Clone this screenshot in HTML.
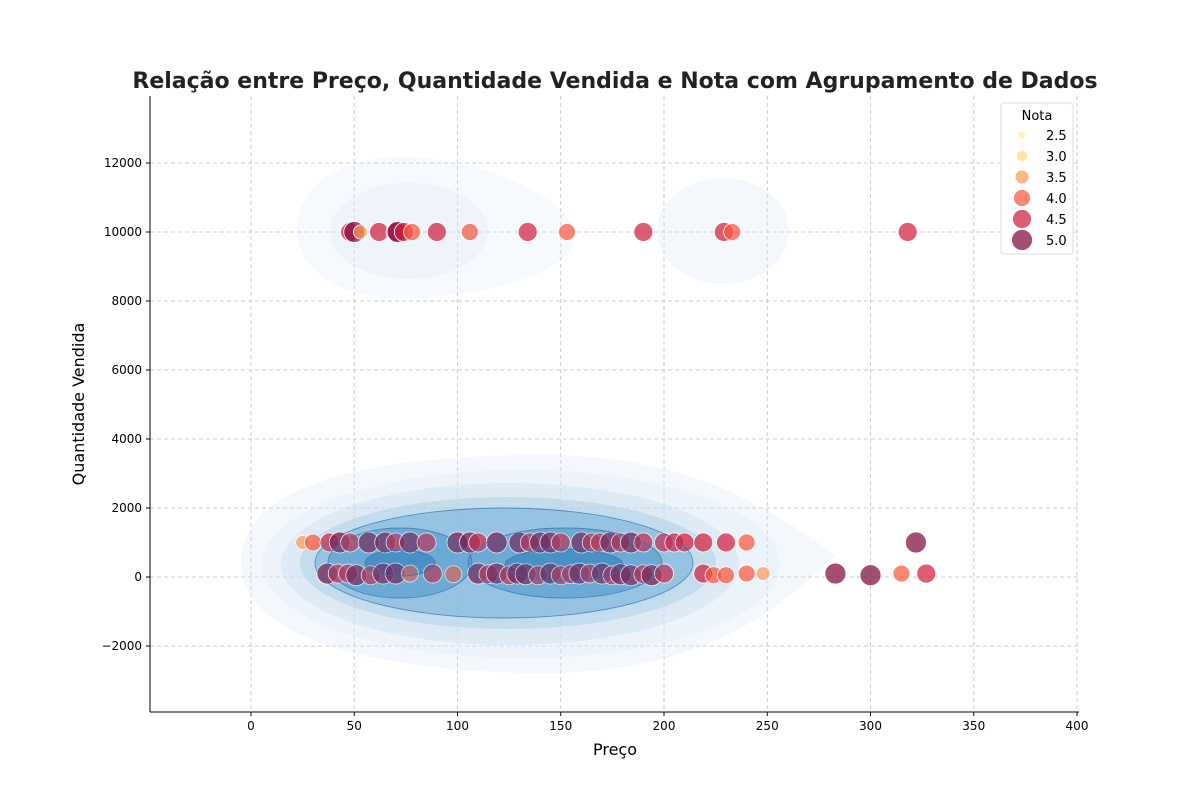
<!DOCTYPE html>
<html><head><meta charset="utf-8"><style>
body{margin:0;background:#fff;}
svg text{font-family:"DejaVu Sans","Liberation Sans",sans-serif;}
</style></head><body>
<svg id="c" width="1200" height="800" xmlns="http://www.w3.org/2000/svg">
<rect width="1200" height="800" fill="#fff"/>
<g id="grid"></g><g id="kde"></g><g id="pts"></g><g id="kdeLines"></g><g id="axes"></g><g id="legend"></g>
</svg>
<script>
const xTicks=[0,50,100,150,200,250,300,350,400];
const yTicks=[-2000,0,2000,4000,6000,8000,10000,12000];
const ratingLevels=[2.5,3.0,3.5,4.0,4.5,5.0];
const upperPrice=[48,50,53,62,70,71,74,78,90,106,134,153,190,229,233,318];
const upperQty=[10000,10000,10000,10000,10000,10000,10000,10000,10000,10000,10000,10000,10000,10000,10000,10000];
const upperRating=[4.5,5.0,3.5,4.5,4.5,5.0,4.5,4.0,4.5,4.0,4.5,4.0,4.5,4.5,4.0,4.5];
const midPrice=[25,30,38,43,48,57,65,70,77,85,100,106,110,119,130,135,140,145,150,160,165,169,174,179,184,190,200,205,210,219,230,240];
const midRating=[3.5,4.0,4.5,5.0,4.5,5.0,5.0,4.5,5.0,4.5,5.0,5.0,4.5,5.0,5.0,4.5,5.0,5.0,4.5,5.0,4.5,4.5,5.0,4.5,5.0,4.5,4.5,4.5,4.5,4.5,4.5,4.0];
const lowPrice=[37,42,47,51,58,64,70,77,88,98,110,115,119,125,129,133,139,145,150,155,159,164,170,175,179,184,190,194,200,219,224,230,240,248,283,300,315,327];
const lowQty=[100,100,100,50,50,100,100,100,100,80,100,80,100,50,100,80,50,100,50,80,100,100,100,50,80,50,80,50,100,100,50,50,100,100,100,50,100,100];
const lowRating=[5.0,4.5,4.5,5.0,4.5,5.0,5.0,4.0,4.5,4.0,5.0,4.5,5.0,4.5,5.0,5.0,4.5,5.0,4.5,4.5,5.0,4.5,5.0,4.5,5.0,5.0,4.5,5.0,4.5,4.5,4.0,4.0,4.0,3.5,5.0,5.0,4.0,4.5];
const extraPrice=[322];const extraQty=[1000];const extraRating=[5.0];

const L=150,R=1079,T=96,B=712;
const sx=v=>251+v*(1077-251)/400;
const sy=v=>577-v*(577-163)/12000;
const NS="http://www.w3.org/2000/svg";
function mk(p,t,a){const e=document.createElementNS(NS,t);for(const k in a)e.setAttribute(k,a[k]);p.appendChild(e);return e;}
const col={2.5:"#ffeda0",3.0:"#fed976",3.5:"#fd9d53",4.0:"#f8583f",4.5:"#d31f3f",5.0:"#800b3e"};
const rad={2.5:4,3.0:5.5,3.5:7,4.0:8.5,4.5:9.5,5.0:10.5};
const grid=document.getElementById('grid'),axes=document.getElementById('axes'),pts=document.getElementById('pts'),kde=document.getElementById('kde'),kl=document.getElementById('kdeLines'),leg=document.getElementById('legend');
xTicks.forEach(t=>{const g=mk(grid,'line',{x1:sx(t),x2:sx(t),y1:T,y2:B,stroke:'#ccc','stroke-dasharray':'4,3'});

mk(axes,'line',{x1:sx(t),x2:sx(t),y1:B,y2:B+4,stroke:'#000'});
const tx=mk(axes,'text',{x:sx(t),y:B+18,'font-size':12,'text-anchor':'middle'});tx.textContent=t;
});
yTicks.forEach(t=>{const g=mk(grid,'line',{x1:L,x2:R,y1:sy(t),y2:sy(t),stroke:'#ccc','stroke-dasharray':'4,3'});

mk(axes,'line',{x1:L-4,x2:L,y1:sy(t),y2:sy(t),stroke:'#000'});
const tx=mk(axes,'text',{x:L-8,y:sy(t)+4,'font-size':12,'text-anchor':'end'});tx.textContent=(t<0?'\u2212'+(-t):t);
});
const lv=["#dbe9f6","#c6dbef","#9ecae1","#6baed6","#4292c6","#2171b5"];
const op=[0.3,0.35,0.4,0.45,0.45,0.45];
function ell(cx,cy,rx,ry,i,name){const e=mk(kde,'ellipse',{cx,cy,rx,ry,fill:lv[i],'fill-opacity':op[i]});

if(i>2){const s=mk(kl,'ellipse',{cx,cy,rx,ry,fill:lv[i],'fill-opacity':0.12,stroke:'#2f6fb0','stroke-width':0.9,'stroke-opacity':0.7});
}}
let p=mk(kde,'path',{d:'M241,563 C241,470 420,455 540,455 C680,455 760,500 835,555 C760,630 680,673 540,673 C420,673 241,650 241,563Z',fill:'#dbe9f6','fill-opacity':0.3});

ell(521,564,259,94,0,'kde-contour');
ell(510,564,229,81,1,'kde-contour');
ell(508,563,208,66,2,'kde-contour');
ell(504,563,189,55,3,'kde-contour');
ell(400,563,72,35,4,'kde-contour');ell(565,563,97,35,4,'kde-contour');
ell(400,563,35,13,5,'kde-contour');ell(564,565,59,16,5,'kde-contour');
p=mk(kde,'path',{d:'M297,230 C297,180 350,157 400,157 C480,157 575,200 575,235 C575,275 480,298 400,298 C340,298 297,270 297,230Z',fill:'#dbe9f6','fill-opacity':0.25});

ell(409,231,79,48,0,'kde-contour');
ell(723,231,66,53,0,'kde-contour');
function draw(px,qs,rs){px.forEach((p,i)=>{const r=rs[i];const c=mk(pts,'circle',{cx:sx(p),cy:sy(qs[i]),r:rad[r],fill:col[r],'fill-opacity':0.72,stroke:'#fff','stroke-width':0.8});
});}
draw(upperPrice,upperQty,upperRating);
draw(midPrice,midPrice.map(()=>1000),midRating);
draw(lowPrice,lowQty,lowRating);
draw(extraPrice,extraQty,extraRating);
mk(axes,'line',{x1:L,x2:L,y1:T,y2:B,stroke:'#000'});
mk(axes,'line',{x1:L,x2:R,y1:B,y2:B,stroke:'#000'});
let t=mk(axes,'text',{x:615,y:88,'font-size':22,'font-weight':'bold','text-anchor':'middle',fill:'#222'});t.textContent='Relação entre Preço, Quantidade Vendida e Nota com Agrupamento de Dados';

t=mk(axes,'text',{x:615,y:755,'font-size':16,'text-anchor':'middle'});t.textContent='Preço';

t=mk(axes,'text',{x:84,y:404,'font-size':16,'text-anchor':'middle',transform:'rotate(-90 84 404)'});t.textContent='Quantidade Vendida';

const lb=mk(leg,'rect',{x:1001,y:103,width:72,height:151,rx:3,fill:'#fff','fill-opacity':0.85,stroke:'#ddd'});

t=mk(leg,'text',{x:1037,y:120,'font-size':13,'text-anchor':'middle'});t.textContent='Nota';

ratingLevels.forEach((r,i)=>{const y=135+i*21;
const c=mk(leg,'circle',{cx:1022,cy:y,r:rad[r],fill:col[r],'fill-opacity':0.72,stroke:'#fff','stroke-width':0.8});

const tx=mk(leg,'text',{x:1046,y:y+5,'font-size':13});tx.textContent=r.toFixed(1);
});
</script>
</body></html>
